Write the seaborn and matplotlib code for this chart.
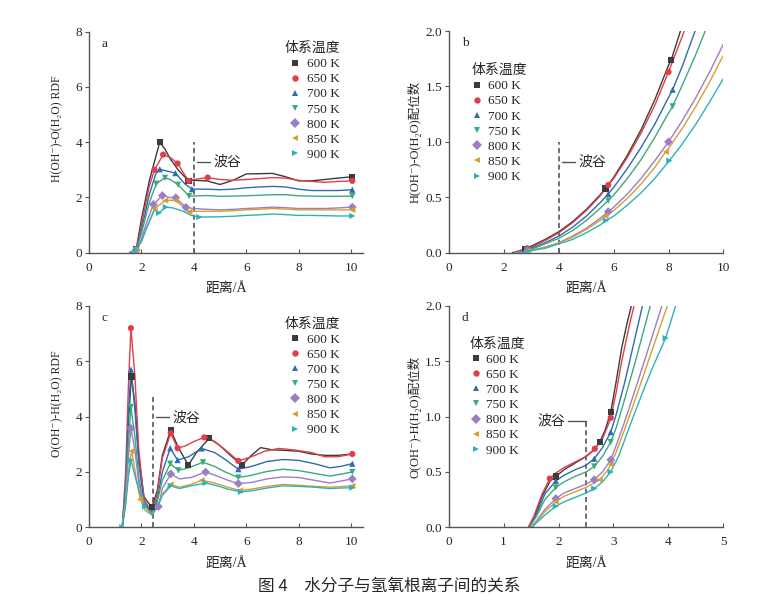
import numpy as np
import pandas as pd
import matplotlib
matplotlib.use("Agg")
import matplotlib.pyplot as plt
from matplotlib.lines import Line2D
import seaborn as sns

sns.set_theme(style="ticks")
FAM = ['Liberation Serif', 'DejaVu Serif', 'Noto Sans CJK SC']
plt.rcParams['font.family'] = FAM
plt.rcParams['axes.unicode_minus'] = False

# ---------------- data ----------------
temps = ["600 K", "650 K", "700 K", "750 K", "800 K", "850 K", "900 K"]
colors = ["#3b3b3b", "#e23d4b", "#2e6bb0", "#3aaa7a", "#9b7fc4", "#d6a030", "#2ab3be"]
markers = ["s", "o", "^", "v", "D", "<", ">"]

# panel a: H(OH-)-O(H2O) RDF
a_x = [
    [1.55, 1.8, 2.0, 2.3, 2.5, 2.7, 2.9, 3.1, 3.4, 3.8, 4.0, 4.5, 5.0, 5.5, 6.0, 6.5, 7.0, 7.5, 8.0, 8.5, 9.0, 9.5, 10.05],
    [1.55, 1.8, 2.0, 2.3, 2.5, 2.83, 3.1, 3.38, 3.8, 4.0, 4.53, 5.0, 5.5, 6.0, 6.5, 7.0, 7.5, 8.0, 8.5, 9.0, 9.5, 10.05],
    [1.55, 1.8, 2.0, 2.3, 2.55, 2.7, 3.0, 3.3, 3.65, 3.93, 4.5, 5.0, 5.5, 6.0, 6.5, 7.0, 7.5, 8.0, 8.5, 9.0, 9.5, 10.05],
    [1.55, 1.8, 2.0, 2.3, 2.57, 2.9, 3.1, 3.4, 3.82, 4.0, 4.5, 5.0, 5.5, 6.0, 6.5, 7.0, 7.5, 8.0, 8.5, 9.0, 9.5, 10.05],
    [1.55, 1.8, 2.0, 2.2, 2.46, 2.8, 3.05, 3.31, 3.7, 4.0, 4.5, 5.0, 5.5, 6.0, 6.5, 7.0, 7.5, 8.0, 8.5, 9.0, 9.5, 10.05],
    [1.55, 1.8, 2.0, 2.2, 2.5, 2.91, 3.1, 3.31, 3.83, 4.0, 4.5, 5.0, 5.5, 6.0, 6.5, 7.0, 7.5, 8.0, 8.5, 9.0, 9.5, 10.05],
    [1.55, 1.8, 2.0, 2.2, 2.5, 2.67, 2.93, 3.2, 3.6, 3.9, 4.21, 5.0, 5.5, 6.0, 6.5, 7.0, 7.5, 8.0, 8.5, 9.0, 9.5, 10.05],
]
a_y = [
    [0, 0.12, 1.2, 2.6, 3.3, 4.0, 3.75, 3.4, 3.0, 2.6, 2.62, 2.6, 2.47, 2.62, 2.85, 2.86, 2.87, 2.75, 2.6, 2.6, 2.65, 2.7, 2.75],
    [0, 0.1, 1.0, 2.4, 3.0, 3.55, 3.45, 3.23, 2.6, 2.65, 2.72, 2.65, 2.62, 2.65, 2.68, 2.72, 2.7, 2.62, 2.58, 2.55, 2.58, 2.6],
    [0, 0.1, 0.8, 2.1, 2.85, 3.02, 2.95, 2.88, 2.5, 2.3, 2.3, 2.28, 2.3, 2.35, 2.38, 2.4, 2.38, 2.3, 2.25, 2.25, 2.25, 2.28],
    [0, 0.1, 0.7, 1.8, 2.5, 2.71, 2.65, 2.46, 2.05, 2.05, 2.07, 2.04, 2.05, 2.06, 2.08, 2.1, 2.1, 2.06, 2.05, 2.04, 2.04, 2.05],
    [0, 0.1, 0.5, 1.1, 1.75, 2.07, 2.0, 1.99, 1.64, 1.6, 1.57, 1.55, 1.57, 1.6, 1.62, 1.65, 1.63, 1.6, 1.6, 1.6, 1.62, 1.65],
    [0, 0.1, 0.4, 0.9, 1.59, 1.89, 1.9, 1.89, 1.48, 1.5, 1.5, 1.5, 1.52, 1.55, 1.57, 1.6, 1.58, 1.55, 1.55, 1.55, 1.55, 1.55],
    [0, 0.1, 0.4, 0.9, 1.55, 1.44, 1.65, 1.62, 1.5, 1.35, 1.29, 1.3, 1.32, 1.35, 1.37, 1.4, 1.38, 1.35, 1.35, 1.34, 1.33, 1.33],
]
a_mark = [[1, 5, 9, 22], [1, 4, 5, 7, 8, 10, 21], [1, 5, 7, 9, 21], [1, 4, 5, 7, 8, 21],
          [1, 4, 5, 7, 8, 21], [1, 4, 5, 7, 8, 21], [1, 5, 6, 10, 21]]

# panel b: H(OH-)-O(H2O) coordination number
b_x = [
    [2.3, 2.75, 3.0, 3.5, 4.0, 4.5, 5.0, 5.5, 5.7, 6.0, 6.5, 7.0, 7.5, 8.0, 8.1, 8.5],
    [2.35, 2.85, 3.0, 3.5, 4.0, 4.5, 5.0, 5.5, 5.8, 6.0, 6.5, 7.0, 7.5, 8.0, 8.5, 8.6],
    [2.35, 2.85, 3.0, 3.5, 4.0, 4.5, 5.0, 5.5, 5.8, 6.0, 6.5, 7.0, 7.5, 8.0, 8.15, 8.5, 9.0],
    [2.4, 2.85, 3.0, 3.5, 4.0, 4.5, 5.0, 5.5, 5.8, 6.0, 6.5, 7.0, 7.5, 8.0, 8.15, 8.5, 9.0, 9.5],
    [2.4, 2.85, 3.0, 3.5, 4.0, 4.5, 5.0, 5.5, 5.8, 6.0, 6.5, 7.0, 7.5, 8.0, 8.5, 9.0, 9.5, 10.0],
    [2.4, 2.85, 3.0, 3.5, 4.0, 4.5, 5.0, 5.5, 5.7, 6.0, 6.5, 7.0, 7.5, 7.9, 8.0, 8.5, 9.0, 9.5, 10.0],
    [2.5, 2.9, 3.0, 3.5, 4.0, 4.5, 5.0, 5.5, 5.72, 6.0, 6.5, 7.0, 7.5, 8.03, 8.5, 9.0, 9.5, 10.0],
]
b_y = [
    [0, 0.03, 0.06, 0.12, 0.19, 0.28, 0.39, 0.52, 0.58, 0.68, 0.88, 1.11, 1.38, 1.69, 1.74, 2.05],
    [0, 0.04, 0.05, 0.11, 0.18, 0.27, 0.38, 0.51, 0.61, 0.67, 0.86, 1.08, 1.33, 1.63, 1.95, 2.02],
    [0, 0.025, 0.04, 0.09, 0.15, 0.23, 0.33, 0.45, 0.53, 0.59, 0.76, 0.95, 1.16, 1.40, 1.47, 1.68, 2.02],
    [0, 0.02, 0.03, 0.08, 0.13, 0.20, 0.29, 0.40, 0.47, 0.52, 0.67, 0.84, 1.04, 1.26, 1.32, 1.51, 1.79, 2.1],
    [0, 0.015, 0.02, 0.05, 0.09, 0.15, 0.22, 0.31, 0.37, 0.41, 0.53, 0.67, 0.83, 1.00, 1.19, 1.40, 1.63, 1.88],
    [0, 0.015, 0.02, 0.05, 0.09, 0.14, 0.21, 0.29, 0.33, 0.38, 0.49, 0.62, 0.77, 0.91, 0.94, 1.12, 1.32, 1.54, 1.78],
    [0, 0.015, 0.02, 0.04, 0.08, 0.12, 0.18, 0.25, 0.29, 0.33, 0.43, 0.54, 0.67, 0.83, 0.98, 1.16, 1.36, 1.57],
]
b_mark = [[1, 8, 14], [1, 8, 13], [1, 8, 14], [1, 8, 14], [1, 8, 13], [1, 8, 13], [1, 8, 13]]

# panel c: O(OH-)-H(H2O) RDF
c_x = [
    [1.27, 1.4, 1.5, 1.62, 1.75, 1.9, 2.1, 2.39, 2.6, 2.8, 3.12, 3.4, 3.79, 4.1, 4.59, 5.0, 5.4, 5.83, 6.2, 6.55, 7.0, 7.5, 8.0, 8.5, 9.0, 9.5, 10.05],
    [1.27, 1.4, 1.5, 1.6, 1.75, 1.9, 2.1, 2.4, 2.6, 2.8, 3.12, 3.38, 3.7, 4.0, 4.4, 4.8, 5.2, 5.7, 6.2, 6.7, 7.25, 7.8, 8.5, 9.0, 9.5, 10.05],
    [1.27, 1.4, 1.5, 1.6, 1.75, 1.9, 2.1, 2.4, 2.6, 2.8, 3.1, 3.38, 3.8, 4.3, 4.8, 5.2, 5.7, 6.2, 6.8, 7.4, 8.0, 8.6, 9.2, 9.6, 10.05],
    [1.27, 1.4, 1.5, 1.6, 1.75, 1.9, 2.1, 2.4, 2.6, 2.8, 3.1, 3.41, 3.8, 4.35, 4.8, 5.2, 5.7, 6.2, 6.8, 7.4, 8.0, 8.6, 9.2, 9.6, 10.05],
    [1.27, 1.4, 1.5, 1.6, 1.75, 1.9, 2.1, 2.4, 2.65, 2.8, 3.12, 3.45, 3.9, 4.45, 4.9, 5.3, 5.7, 6.2, 6.8, 7.4, 8.0, 8.6, 9.2, 9.6, 10.05],
    [1.27, 1.4, 1.5, 1.63, 1.8, 1.95, 2.15, 2.4, 2.6, 2.8, 3.12, 3.45, 3.9, 4.3, 4.8, 5.3, 5.76, 6.2, 6.8, 7.4, 8.0, 8.6, 9.2, 9.6, 10.05],
    [1.27, 1.4, 1.5, 1.6, 1.8, 1.95, 2.14, 2.4, 2.6, 2.8, 3.12, 3.45, 3.9, 4.45, 4.9, 5.3, 5.8, 6.2, 6.8, 7.4, 8.0, 8.6, 9.2, 9.6, 10.05],
]
c_y = [
    [0, 1.5, 3.8, 5.45, 4.5, 2.5, 1.1, 0.72, 1.3, 2.6, 3.52, 2.9, 2.25, 2.7, 3.22, 2.95, 2.6, 2.25, 2.6, 2.88, 2.8, 2.78, 2.75, 2.65, 2.6, 2.6, 2.65],
    [0, 2.0, 5.0, 7.2, 5.5, 2.8, 1.0, 0.55, 1.2, 2.5, 3.4, 2.86, 2.95, 3.1, 3.25, 3.1, 2.8, 2.4, 2.55, 2.75, 2.85, 2.8, 2.7, 2.55, 2.55, 2.65],
    [0, 1.5, 4.0, 5.7, 4.3, 2.3, 0.9, 0.5, 1.0, 2.0, 2.86, 2.43, 2.55, 2.85, 2.7, 2.45, 2.1, 2.2, 2.38, 2.45, 2.42, 2.3, 2.15, 2.2, 2.3],
    [0, 1.2, 3.0, 4.35, 3.3, 1.8, 0.8, 0.5, 0.9, 1.7, 2.3, 2.06, 2.15, 2.35, 2.2, 2.0, 1.8, 1.88, 2.02, 2.1, 2.05, 1.95, 1.85, 1.92, 2.0],
    [0, 1.0, 2.5, 3.58, 2.8, 1.6, 0.8, 0.5, 0.75, 1.4, 1.93, 1.75, 1.8, 2.0, 1.85, 1.7, 1.58, 1.62, 1.75, 1.82, 1.8, 1.7, 1.6, 1.67, 1.75],
    [0, 0.9, 2.0, 2.76, 1.8, 1.01, 0.6, 0.45, 0.75, 1.2, 1.55, 1.45, 1.55, 1.7, 1.6, 1.45, 1.33, 1.38, 1.48, 1.55, 1.52, 1.48, 1.45, 1.47, 1.5],
    [0, 0.8, 1.8, 2.43, 1.7, 1.2, 0.75, 0.45, 0.7, 1.15, 1.5, 1.4, 1.5, 1.6, 1.5, 1.38, 1.28, 1.32, 1.42, 1.5, 1.48, 1.45, 1.4, 1.42, 1.43],
]
c_mark = [[3, 7, 10, 12, 14, 17], [3, 10, 11, 14, 17, 25], [3, 10, 11, 13, 16, 24], [3, 10, 11, 13, 16, 24],
          [3, 8, 10, 13, 16, 24], [3, 5, 10, 13, 16, 24], [0, 3, 6, 10, 13, 16, 24]]

# panel d: O(OH-)-H(H2O) coordination number
d_x = [
    [1.45, 1.55, 1.7, 1.85, 1.95, 2.1, 2.3, 2.5, 2.65, 2.75, 2.85, 2.95, 3.05, 3.15, 3.25, 3.35],
    [1.45, 1.55, 1.7, 1.84, 1.95, 2.1, 2.3, 2.5, 2.66, 2.8, 2.9, 2.95, 3.05, 3.15, 3.3, 3.4],
    [1.47, 1.6, 1.75, 1.95, 2.1, 2.3, 2.5, 2.65, 2.8, 2.95, 3.05, 3.2, 3.35, 3.55],
    [1.47, 1.6, 1.75, 1.95, 2.1, 2.3, 2.5, 2.65, 2.8, 2.95, 3.05, 3.2, 3.4, 3.68],
    [1.5, 1.6, 1.75, 1.95, 2.1, 2.3, 2.5, 2.65, 2.8, 2.95, 3.05, 3.2, 3.4, 3.6, 3.9],
    [1.5, 1.6, 1.75, 1.95, 2.1, 2.3, 2.5, 2.75, 2.9, 2.95, 3.05, 3.2, 3.4, 3.6, 4.0],
    [1.52, 1.6, 1.75, 1.95, 2.1, 2.3, 2.5, 2.65, 2.8, 2.95, 3.1, 3.3, 3.5, 3.7, 3.95, 4.15],
]
d_y = [
    [0, 0.08, 0.28, 0.42, 0.46, 0.52, 0.58, 0.64, 0.70, 0.77, 0.88, 1.04, 1.32, 1.62, 1.85, 2.05],
    [0, 0.10, 0.30, 0.44, 0.49, 0.54, 0.59, 0.64, 0.71, 0.80, 0.92, 0.99, 1.22, 1.50, 1.85, 2.05],
    [0, 0.12, 0.30, 0.42, 0.47, 0.52, 0.56, 0.62, 0.72, 0.86, 1.02, 1.30, 1.62, 2.05],
    [0, 0.10, 0.25, 0.36, 0.41, 0.46, 0.50, 0.55, 0.64, 0.77, 0.90, 1.15, 1.50, 2.02],
    [0, 0.06, 0.16, 0.26, 0.31, 0.35, 0.39, 0.43, 0.50, 0.61, 0.74, 0.95, 1.25, 1.56, 2.03],
    [0, 0.05, 0.14, 0.23, 0.28, 0.32, 0.36, 0.43, 0.52, 0.57, 0.68, 0.88, 1.16, 1.45, 2.03],
    [0, 0.04, 0.11, 0.19, 0.23, 0.27, 0.31, 0.35, 0.41, 0.50, 0.65, 0.92, 1.18, 1.43, 1.71, 2.03],
]
d_mark = [[4, 9, 11], [3, 8, 11], [3, 7, 9], [3, 7, 9], [3, 7, 9], [3, 7, 9], [3, 7, 9, 14]]

panel_letters = ["a", "b", "c", "d"]
ylabels = ["H(OH⁻)-O(H₂O) RDF", "H(OH⁻)-O(H₂O)配位数", "O(OH⁻)-H(H₂O) RDF", "O(OH⁻)-H(H₂O)配位数"]
xlabel = "距离/Å"
legend_title = "体系温度"
valley_x = [4.0, 4.0, 2.45, 2.5]
valley_top = [4.0, 1.0, 4.7, 0.98]
valley_text = "波谷"
caption = "图 4　水分子与氢氧根离子间的关系"

# ---------------- figure ----------------
fig = plt.figure(figsize=(7.6, 5.97), dpi=100)
rects = [
    [89/760, 344.3/597, 274.3/760, 221/597],
    [449.3/760, 344.3/597, 274/760, 221.7/597],
    [89/760, 69.7/597, 274.3/760, 221.3/597],
    [448.7/760, 69.7/597, 274.6/760, 221.3/597],
]
xlims = [(0, 10.47), (0, 10), (0, 10.47), (0, 5)]
ylims = [(0, 8), (0, 2.0), (0, 8), (0, 2.0)]
xticks = [np.arange(0, 11, 2), np.arange(0, 11, 2), np.arange(0, 11, 2), np.arange(0, 6, 1)]
yticks = [np.arange(0, 9, 2), np.arange(0, 2.01, 0.5), np.arange(0, 9, 2), np.arange(0, 2.01, 0.5)]
yfmt = ["{:.0f}", "{:.1f}", "{:.0f}", "{:.1f}"]
datasets = [(a_x, a_y, a_mark), (b_x, b_y, b_mark), (c_x, c_y, c_mark), (d_x, d_y, d_mark)]
# legend placement (axes fraction), handlelength, handletextpad
leg_pos = [(0.713, 0.958, 1.6, 0.1), (0.080, 0.855, 0.9, 0.35), (0.713, 0.953, 1.6, 0.1), (0.076, 0.862, 0.9, 0.35)]
ylab_pos = [(-0.116, 0.56), (-0.125, 0.50), (-0.116, 0.56), (-0.123, 0.50)]
ylab_size = [8.5, 9.0, 8.5, 9.0]

palette = dict(zip(temps, colors))
mstyles = dict(zip(temps, markers))

for i, (xs, ys, mk) in enumerate(datasets):
    ax = fig.add_axes(rects[i])
    rows, mrows = [], []
    for t, xx, yy, idx in zip(temps, xs, ys, mk):
        for j, (xv, yv) in enumerate(zip(xx, yy)):
            rows.append((t, j, xv, yv))
        for j in idx:
            mrows.append((t, xx[j], yy[j]))
    df = pd.DataFrame(rows, columns=["T", "order", "x", "y"])
    mdf = pd.DataFrame(mrows, columns=["T", "x", "y"])
    sns.lineplot(data=df, x="x", y="y", hue="T", units="T", estimator=None, sort=False,
                 palette=palette, linewidth=1.0, legend=False, ax=ax, zorder=2)
    sns.scatterplot(data=mdf, x="x", y="y", hue="T", style="T", palette=palette,
                    markers=mstyles, s=20, edgecolor="none", legend=False, ax=ax, zorder=3)
    ax.set_xlim(*xlims[i])
    ax.set_ylim(*ylims[i])
    ax.set_xticks(xticks[i])
    ax.set_yticks(yticks[i])
    ax.set_xticklabels([f"{v:g}" for v in xticks[i]])
    ax.set_yticklabels([yfmt[i].format(v) for v in yticks[i]])
    for s in ["top", "right"]:
        ax.spines[s].set_visible(False)
    for s in ["left", "bottom"]:
        ax.spines[s].set_color("#555555")
        ax.spines[s].set_linewidth(1.0)
    ax.tick_params(axis="x", direction="in", length=3, width=0.8, color="#555555", labelsize=9.5, pad=6.5)
    ax.tick_params(axis="y", direction="out", length=3, width=0.8, color="#555555", labelsize=9.5, pad=2)
    ax.set_xlabel(xlabel, fontsize=10, labelpad=6)
    ax.set_ylabel(ylabels[i], fontsize=ylab_size[i], va="center", rotation_mode="anchor")
    ax.yaxis.set_label_coords(*ylab_pos[i])
    ax.text(0.046, 0.944, panel_letters[i], transform=ax.transAxes, fontsize=9.5, va="center", ha="left")

    # valley marker
    ax.plot([valley_x[i], valley_x[i]], [0, valley_top[i]], ls=(0, (3, 2)), color="#555555", lw=1.2, zorder=1)
    yr = ylims[i][1]
    xr = xlims[i][1]
    ty = valley_top[i] - 0.09 * yr if i != 3 else valley_top[i] - 0.01 * yr
    if i == 3:
        ax.plot([valley_x[i] - 0.066 * xr, valley_x[i]], [ty, ty], color="#555555", lw=1.0)
        ax.text(valley_x[i] - 0.075 * xr, ty, valley_text, fontsize=10, va="center", ha="right",
                family=['Noto Sans CJK SC'])
    else:
        ax.plot([valley_x[i] + 0.01 * xr, valley_x[i] + 0.058 * xr], [ty, ty], color="#555555", lw=1.0)
        ax.text(valley_x[i] + 0.07 * xr, ty, valley_text, fontsize=10, va="center", ha="left",
                family=['Noto Sans CJK SC'])

    handles = [Line2D([], [], ls="none", marker=m, color=c, markersize=4.6, markeredgewidth=0)
               for m, c in zip(markers, colors)]
    lx, ly, hl, hp = leg_pos[i]
    leg = ax.legend(handles, temps, title=legend_title, loc="upper left", bbox_to_anchor=(lx, ly),
                    frameon=False, borderpad=0, borderaxespad=0, handlelength=hl, handletextpad=hp,
                    labelspacing=0.22, fontsize=9.5, alignment="left")
    leg.get_title().set_fontsize(10)
    leg.get_title().set_family(['Noto Sans CJK SC'])

fig.text(0.512, 0.0175, caption, ha="center", va="center", fontsize=12, family=['Noto Sans CJK SC', 'DejaVu Sans'])

fig.savefig("out.png", dpi=100)
